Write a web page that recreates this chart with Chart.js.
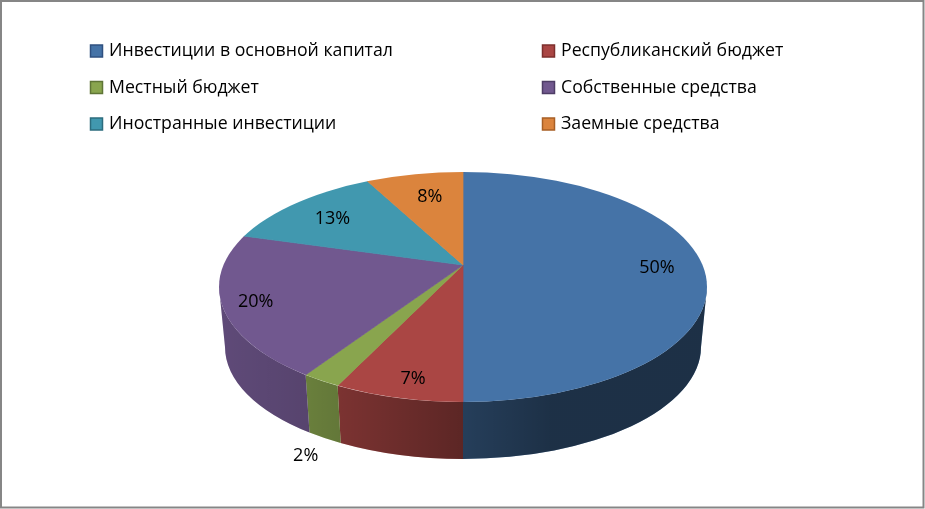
<!DOCTYPE html>
<html lang="ru">
<head>
<meta charset="utf-8">
<title>Инвестиции в основной капитал</title>
<script src="https://cdn.jsdelivr.net/npm/chart.js@4/dist/chart.umd.js"></script>
<style>
  html, body { margin: 0; padding: 0; background: #fff; }
  canvas { display: block; }
</style>
</head>
<body>
<canvas id="grafica" width="925" height="509"></canvas>
<script>
const categorias = [
  'Инвестиции в основной капитал',
  'Республиканский бюджет',
  'Местный бюджет',
  'Собственные средства',
  'Иностранные инвестиции',
  'Заемные средства'
];
// estimated from the slice edges, they round to the printed 50, 7, 2, 20, 13, 8
const porcentajes = [50, 7.25, 2.2, 19.9, 12.8, 7.85];

const colores = ['#4573a7', '#aa4644', '#89a54e', '#71588f', '#4198af', '#db843d'];
const bordesLeyenda = ['#2f5080', '#7d2f2d', '#5f7536', '#4e3d66', '#2c6c7e', '#a85f25'];

// distance of each percent label from the apex, along the middle of its slice, plus a nudge
const radioEtiqueta = [194, 243, 328, 224, 166, 136];
const ajusteEtiquetaX = [0, 5, 7, 3, -1, 0];
const ajusteEtiquetaY = [2, 1, 56, -1, 2, -7];

const FUENTE = '"Open Sans", sans-serif';

// the pie seen in perspective: top face and lower rim are ellipses, apex sits above their centre
const tapa = { rx: 244, ry: 115, desplazamiento: 22 };
const base = { rx: 238, ry: 112, bajada: 60 };
const escalaY = tapa.ry / tapa.rx;

// from canvas angle of a slice edge to the ellipse parameter where it meets the rim
function anguloEnBorde(angulo) {
  const e = tapa.desplazamiento / tapa.ry;
  const s = Math.sin(angulo);
  const t = e * s + Math.sqrt(e * e * s * s + 1 - e * e);
  const fi = Math.atan2(-e + t * s, t * Math.cos(angulo));
  return fi < -Math.PI / 2 ? fi + 2 * Math.PI : fi;
}

const pastel3d = {
  id: 'pastel3d',
  beforeDatasetsDraw(chart) {
    const { ctx } = chart;
    const arcos = chart.getDatasetMeta(0).data;
    const cx = arcos[0].x;
    const cy = arcos[0].y + tapa.desplazamiento;

    // shade of the outer wall, same for every slice
    const sombra = ctx.createLinearGradient(cx - tapa.rx, 0, cx + tapa.rx, 0);
    sombra.addColorStop(0, 'rgba(0,0,0,0.16)');
    sombra.addColorStop(0.18, 'rgba(0,0,0,0.23)');
    sombra.addColorStop(0.25, 'rgba(0,0,0,0.28)');
    sombra.addColorStop(0.5, 'rgba(0,0,0,0.46)');
    sombra.addColorStop(0.68, 'rgba(0,0,0,0.58)');
    sombra.addColorStop(1, 'rgba(0,0,0,0.58)');

    arcos.forEach((arco, i) => {
      const desde = Math.max(anguloEnBorde(arco.startAngle), 0);
      const hasta = Math.min(anguloEnBorde(arco.endAngle), Math.PI);
      if (desde >= hasta) return;
      ctx.beginPath();
      ctx.ellipse(cx, cy, tapa.rx, tapa.ry, 0, desde, hasta);
      ctx.ellipse(cx, cy + base.bajada, base.rx, base.ry, 0, hasta, desde, true);
      ctx.closePath();
      ctx.fillStyle = colores[i];
      ctx.fill();
      ctx.fillStyle = sombra;
      ctx.fill();
    });

    // the library draws the slices squashed and cut by the top ellipse
    ctx.save();
    ctx.beginPath();
    ctx.ellipse(cx, cy, tapa.rx, tapa.ry, 0, 0, 2 * Math.PI);
    ctx.clip();
    ctx.translate(arcos[0].x, arcos[0].y);
    ctx.scale(1, escalaY);
    ctx.translate(-arcos[0].x, -arcos[0].y);
  },
  afterDatasetsDraw(chart) {
    chart.ctx.restore();
  },
  afterDraw(chart) {
    const { ctx } = chart;
    const arcos = chart.getDatasetMeta(0).data;

    ctx.fillStyle = '#000';
    ctx.textBaseline = 'middle';

    // percent labels
    ctx.font = '18px ' + FUENTE;
    ctx.textAlign = 'center';
    arcos.forEach((arco, i) => {
      const medio = (arco.startAngle + arco.endAngle) / 2;
      const x = arco.x + radioEtiqueta[i] * Math.cos(medio) + ajusteEtiquetaX[i];
      const y = arco.y + radioEtiqueta[i] * escalaY * Math.sin(medio) + ajusteEtiquetaY[i] + 1;
      ctx.fillText(Math.round(porcentajes[i]) + '%', x, y);
    });

    // legend, two columns
    ctx.font = '17.7px ' + FUENTE;
    ctx.textAlign = 'left';
    categorias.forEach((nombre, i) => {
      const x = i % 2 === 0 ? 90.5 : 542.5;
      const y = 51 + Math.floor(i / 2) * 36.5;
      ctx.fillStyle = colores[i];
      ctx.fillRect(x, y - 6, 12, 12);
      ctx.strokeStyle = bordesLeyenda[i];
      ctx.lineWidth = 1.5;
      ctx.strokeRect(x, y - 6, 12, 12);
      ctx.fillStyle = '#000';
      ctx.fillText(nombre, x + 18.5, y);
    });

    // frame
    ctx.strokeStyle = '#868686';
    ctx.lineWidth = 2;
    ctx.strokeRect(1, 1, 922.5, 506.5);
  }
};

new Chart(document.getElementById('grafica'), {
  type: 'pie',
  data: {
    labels: categorias,
    datasets: [{
      data: porcentajes,
      backgroundColor: colores,
      borderColor: colores,
      borderWidth: 1,
      radius: 300,
      clip: false
    }]
  },
  options: {
    responsive: false,
    animation: false,
    layout: { padding: { left: 1, top: 21 } },
    plugins: {
      legend: { display: false },
      tooltip: { enabled: false }
    }
  },
  plugins: [pastel3d]
});
</script>
</body>
</html>
